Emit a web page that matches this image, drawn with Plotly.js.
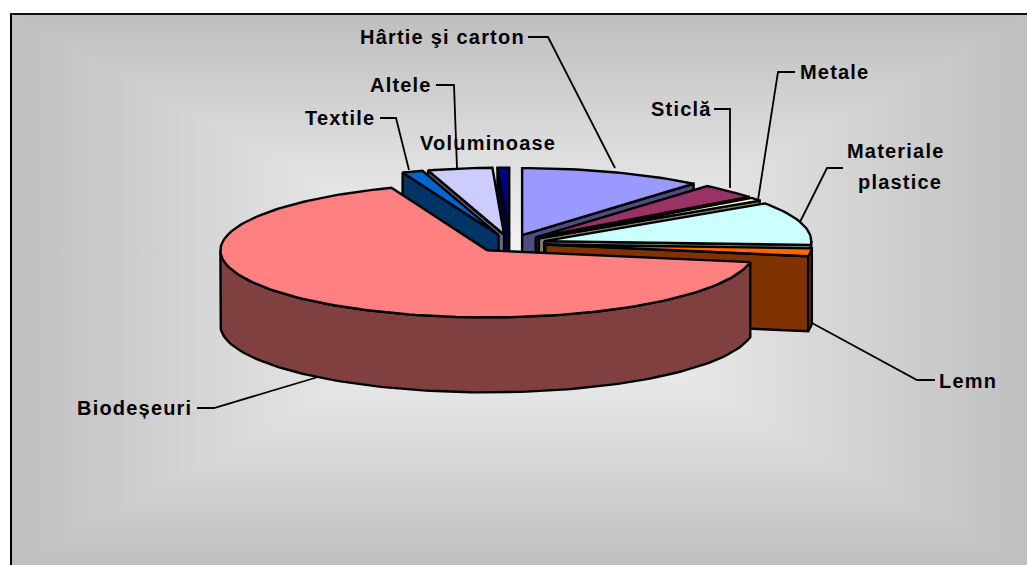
<!DOCTYPE html>
<html><head><meta charset="utf-8">
<script src="https://cdn.plot.ly/plotly-3.0.1.min.js"></script>
<style>
html,body{margin:0;padding:0;background:#fff;overflow:hidden}
#bg{position:absolute;left:10px;top:13px;width:1100px;height:600px;box-sizing:border-box;border-left:2px solid #000;border-top:2px solid #111;
background-image:linear-gradient(to right,#bfbfbf 0,#fbfbfb 508px,#bfbfbf 1016px),linear-gradient(to bottom,#bfbfbf 0,#fbfbfb 276px,#bfbfbf 552px);background-repeat:no-repeat;background-size:1017px 552px;background-blend-mode:darken}
#chart{position:absolute;left:0;top:0;width:1027px;height:565px}
.annotation-text{letter-spacing:1.2px}
</style></head><body>
<div id="bg"></div><div id="chart"></div>
<script>
// Share of each category (percent), clockwise from the top of the pie
const categories=['Hârtie şi carton','Sticlă','Metale','Materiale plastice','Lemn','Biodeșeuri','Textile','Altele','Voluminoase'];
const values=[11.1,3.6,0.8,10.4,1.9,66.35,1.25,3.9,0.7];
const topColors=['#9999FF','#993366','#FFFFCC','#CCFFFF','#FF6600','#FF8080','#0066CC','#CCCCFF','#000080'];
const sideColors=['#4D4D80','#4D1A33','#808066','#668080','#803300','#804040','#003366','#666680','#000040'];
const drawOrder=[8,7,6,0,1,2,3,4,5];

const labelTexts=['Hârtie şi carton','Altele','Textile','Voluminoase','Sticlă','Metale','Materiale','plastice','Lemn','Biodeșeuri'];
const labelX=[442,401,340,488,681,834,896,900,968,134];
const labelY=[37,85,118,143,109,72,151,182,381,408];
const leaderX=[[528,548,615],[436,454,457],[380,396,409],[714,730,730],[795,778,758],[843,827,800],[812,917,935],[197,214,318]];
const leaderY=[[37,37,168],[85,85,168],[118,118,170],[109,109,188],[72,72,200],[168,168,222],[323,380,380],[408,408,377]];

// 3-D projection of the pie
const cx=510,cy=243.5,rx=267,ry=67,depth=75,explode=0.133;
const rad=d=>d*Math.PI/180;
const total=values.reduce((a,b)=>a+b,0);
let acc=0;
const slices=values.map((v,i)=>{const a0=acc/total*360;acc+=v;const a1=acc/total*360;const m=rad((a0+a1)/2);
  return {i,a0,a1,ax:cx+explode*rx*Math.sin(m),ay:cy-explode*ry*Math.cos(m)};});
const rim=(s,a,dz)=>[s.ax+rx*Math.sin(rad(a)),s.ay-ry*Math.cos(rad(a))+dz];
const arc=(s,a0,a1,dz)=>{const n=Math.max(2,Math.ceil((a1-a0)/1.5));const p=[];for(let k=0;k<=n;k++)p.push(rim(s,a0+(a1-a0)*k/n,dz));return p;};
const traces=[];
const poly=(pts,fill)=>{const c=pts.concat([pts[0]]);traces.push({type:'scatter',mode:'lines',x:c.map(p=>p[0]),y:c.map(p=>p[1]),fill:'toself',fillcolor:fill,line:{color:'#000',width:2.4,shape:'linear'},hoverinfo:'skip',showlegend:false});};
drawOrder.forEach(idx=>{const s=slices[idx],side=sideColors[idx];
  // cut face turned toward the viewer
  if(s.a1<=180){const a=s.a1;poly([[s.ax,s.ay],rim(s,a,0),rim(s,a,depth),[s.ax,s.ay+depth]],side);}
  else if(s.a0>=180){const a=s.a0;poly([[s.ax,s.ay],rim(s,a,0),rim(s,a,depth),[s.ax,s.ay+depth]],side);}
  // outer wall, front-facing part
  const f0=Math.max(s.a0,90),f1=Math.min(s.a1,270);
  if(f1>f0){poly(arc(s,f0,f1,0).concat(arc(s,f0,f1,depth).reverse()),side);}
  // top
  poly([[s.ax,s.ay]].concat(arc(s,s.a0,s.a1,0)),topColors[idx]);
});
leaderX.forEach((lx,i)=>traces.push({type:'scatter',mode:'lines',x:lx,y:leaderY[i],line:{color:'#000',width:1.8},hoverinfo:'skip',showlegend:false}));

const annotations=labelTexts.map((t,i)=>({x:labelX[i],y:labelY[i],xref:'x',yref:'y',text:'<b>'+t+'</b>',showarrow:false,xanchor:'center',yanchor:'middle',align:'center',
  font:{family:'"Liberation Sans",Arial,sans-serif',size:20,color:'#000'}}));
Plotly.newPlot('chart',traces,{width:1027,height:565,margin:{l:0,r:0,t:0,b:0},paper_bgcolor:'rgba(0,0,0,0)',plot_bgcolor:'rgba(0,0,0,0)',showlegend:false,
  xaxis:{range:[0,1027],visible:false,fixedrange:true},yaxis:{range:[565,0],visible:false,fixedrange:true},annotations},{displayModeBar:false,staticPlot:true});
</script></body></html>
